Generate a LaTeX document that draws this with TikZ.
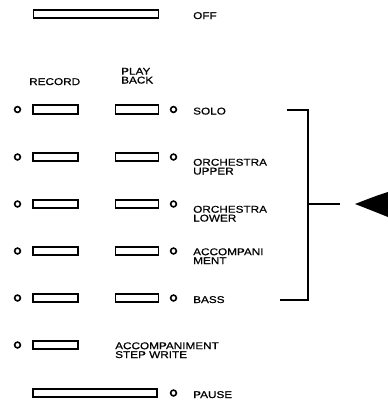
\documentclass[tikz,border=0pt]{standalone}
\usepackage{fontspec}
\newfontfamily\lblfont[FakeStretch=1.2,FakeBold=0.6]{Liberation Sans}
\begin{document}
\begin{tikzpicture}[x=1pt,y=-1pt,
  btnL/.style={draw, rectangle, line width=1.8pt, minimum width=45pt, minimum height=8.5pt, inner sep=0},
  btnR/.style={btnL, minimum width=43pt},
  wbtn/.style={btnL, minimum width=125pt},
  lamp/.style={draw, circle, line width=1.6pt, minimum size=5.8pt, inner sep=0},
  lbl/.style={anchor=base west, inner sep=0, font=\lblfont\fontsize{9.8}{8.8}\selectfont, align=left},
  brk/.style={line width=2pt}]
\useasboundingbox (0,0) rectangle (388,405);

% OFF
\node[wbtn] (off) at (96,14) {};
\node[lbl] (offT) at (193,19) {OFF};

% headings
\node[lbl] (recT) at (29,85) {RECORD};
\node[lbl] (pbT) at (121,83.5) {PLAY\\BACK};

% rows
\foreach \n/\y in {1/109.5,2/157,3/204,4/251,5/298,6/345}{
  \node[lamp] (lL\n) at (17.5,\y) {};
  \node[btnL] (bL\n) at (55.5,\y) {};
}
\foreach \n/\y in {1/109.5,2/157,3/204,4/251,5/298}{
  \node[btnR] (bR\n) at (137,\y) {};
  \node[lamp] (lR\n) at (173.5,\y) {};
}
\node[lbl] (t1) at (193,114.5) {SOLO};
\node[lbl] (t2) at (193,174.5) {ORCHESTRA\\UPPER};
\node[lbl] (t3) at (193,221.5) {ORCHESTRA\\LOWER};
\node[lbl] (t4) at (193,264) {ACCOMPANI\\MENT};
\node[lbl] (t5) at (193,303) {BASS};
\node[lbl] (t6) at (115,358) {ACCOMPANIMENT\\STEP WRITE};

% PAUSE
\node[wbtn, minimum width=124pt] (pause) at (95,393) {};
\node[lamp] (lP) at (173.5,393) {};
\node[lbl] (pT) at (193,398) {PAUSE};

% bracket
\coordinate (bT) at (287,110);
\coordinate (bTc) at (308,110);
\coordinate (bBc) at (308,300);
\coordinate (bB) at (280,300);
\coordinate (bM) at (308,203.5);
\coordinate (bMe) at (340,203.5);
\draw[brk] (bT) -- (bTc) -- (bBc) -- (bB);
\draw[brk] (bM) -- (bMe);

% arrowhead (cut by the right edge)
\coordinate (tip) at (355,204);
\fill (tip) .. controls (368,199) and (378,195) .. (388,192) -- (388,217) .. controls (378,213) and (368,209) .. (tip) -- cycle;
\end{tikzpicture}
\end{document}
